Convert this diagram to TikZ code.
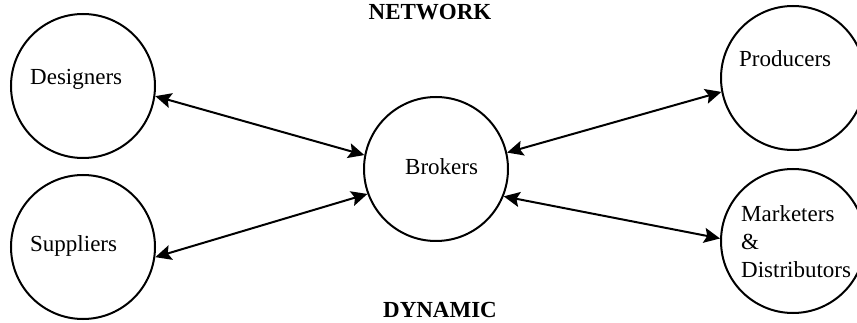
\documentclass[tikz,border=0pt]{standalone}
\usepackage{fontspec}
\setmainfont{Liberation Serif}
\usetikzlibrary{arrows.meta}
\begin{document}
\begin{tikzpicture}[x=1pt,y=-1pt,font=\fontsize{23}{27.5}\selectfont,
  actor/.style={circle,draw,line width=2pt,minimum size=144pt,inner sep=0pt},
  partytext/.style={anchor=base west,inner sep=0pt,align=left},
  headline/.style={anchor=base,inner sep=0pt,font=\fontsize{23}{27.5}\selectfont\bfseries},
  link/.style={line width=2pt,{Stealth[length=16pt,width=15pt,inset=3pt]}-{Stealth[length=16pt,width=15pt,inset=3pt]}}]
\useasboundingbox (0,0) rectangle (857,323);
% the five parties
\node[actor] (des) at (83,86) {};
\node[actor] (sup) at (83,247) {};
\node[actor] (bro) at (436,169) {};
\node[actor] (pro) at (793,78) {};
\node[actor] (mar) at (793,241) {};
\node[partytext] (desT) at (30,85) {Designers};
\node[partytext] (supT) at (30,252) {Suppliers};
\node[partytext] (broT) at (405,175) {Brokers};
\node[partytext] (proT) at (739,67) {Producers};
\node[partytext] (marT) at (741,277) {Marketers\\\&\\Distributors};
\node[headline] (net) at (430,20) {NETWORK};
\node[headline] (dyn) at (440,317) {DYNAMIC};
% links through the brokers
\draw[link] (des.-8) -- (bro.169);
\draw[link] (sup.-8) -- (bro.200);
\draw[link] (bro.13) -- (pro.191);
\draw[link] (bro.-22) -- (mar.178);
\end{tikzpicture}
\end{document}
